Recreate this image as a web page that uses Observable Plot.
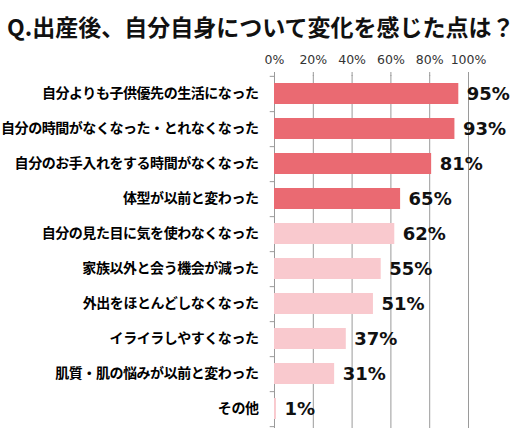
<!DOCTYPE html>
<html>
<head>
<meta charset="utf-8">
<script src="https://cdn.jsdelivr.net/npm/d3@7"></script>
<script src="https://cdn.jsdelivr.net/npm/@observablehq/plot@0.6"></script>
<style>
  body { margin: 0; background: #fff; }
  #title {
    height: 44px; box-sizing: border-box; padding: 11px 0 0 7px;
    font: 700 23px "Noto Sans CJK JP", sans-serif; line-height: 30px; color: #111;
    white-space: nowrap;
  }
  #chart g[aria-label="y-axis tick label"] text { letter-spacing: -0.45px; }
</style>
</head>
<body>
<div id="title">Q.出産後、自分自身について変化を感じた点は？</div>
<div id="chart"></div>
<script>
// 回答項目と割合（%）
const items = [
  "自分よりも子供優先の生活になった",
  "自分の時間がなくなった・とれなくなった",
  "自分のお手入れをする時間がなくなった",
  "体型が以前と変わった",
  "自分の見た目に気を使わなくなった",
  "家族以外と会う機会が減った",
  "外出をほとんどしなくなった",
  "イライラしやすくなった",
  "肌質・肌の悩みが以前と変わった",
  "その他"
]
const pct = [95, 93, 81, 65, 62, 55, 51, 37, 31, 1]
const xTicks = [0, 20, 40, 60, 80, 100]

const data = items.map((item, i) => ({item, pct: pct[i], top: i < 4}))

const step = (384 - 31) / items.length

let chart = Plot.plot({
  width: 526,
  height: 397,
  marginTop: 31,
  marginBottom: 13,
  marginLeft: 274,
  marginRight: 58,
  style: {fontFamily: "DejaVu Sans", background: "#fff"},
  x: {domain: [0, 100], axis: null},
  y: {domain: items, paddingInner: 0.39, paddingOuter: 0.195, axis: null},
  marks: [
    // 目盛り線
    Plot.ruleX(xTicks, {stroke: "#9a9a9a", strokeOpacity: 1}),
    Plot.axisX(xTicks, {
      anchor: "top", tickSize: 4, tickPadding: 8, stroke: "#9a9a9a", label: null,
      tickFormat: d => d + "%", fontSize: 12.5, fill: "#333"
    }),
    // 左軸の区切り
    Plot.ruleY(items, {y: d => d, x1: -2.2, x2: 0, dy: step / 2, stroke: "#9a9a9a"}),
    Plot.ruleY(items.slice(0, 1), {y: d => d, x1: -2.2, x2: 0, dy: -step / 2, stroke: "#9a9a9a"}),
    Plot.barX(data, {
      y: "item", x: "pct",
      fill: d => d.top ? "#ea6a72" : "#f9c9ce"
    }),
    Plot.axisY({
      anchor: "left", tickSize: 0, tickPadding: 16, label: null,
      fontSize: 14, fontWeight: "bold", fill: "#000",
      fontFamily: "Noto Sans CJK JP"
    }),
    Plot.text(data, {
      y: "item", x: "pct", text: d => d.pct + "%",
      textAnchor: "start", dx: 8, fontSize: 18, fontWeight: "bold", fill: "#111"
    })
  ]
})

d3.select('#chart').append(() => chart)
</script>
</body>
</html>
